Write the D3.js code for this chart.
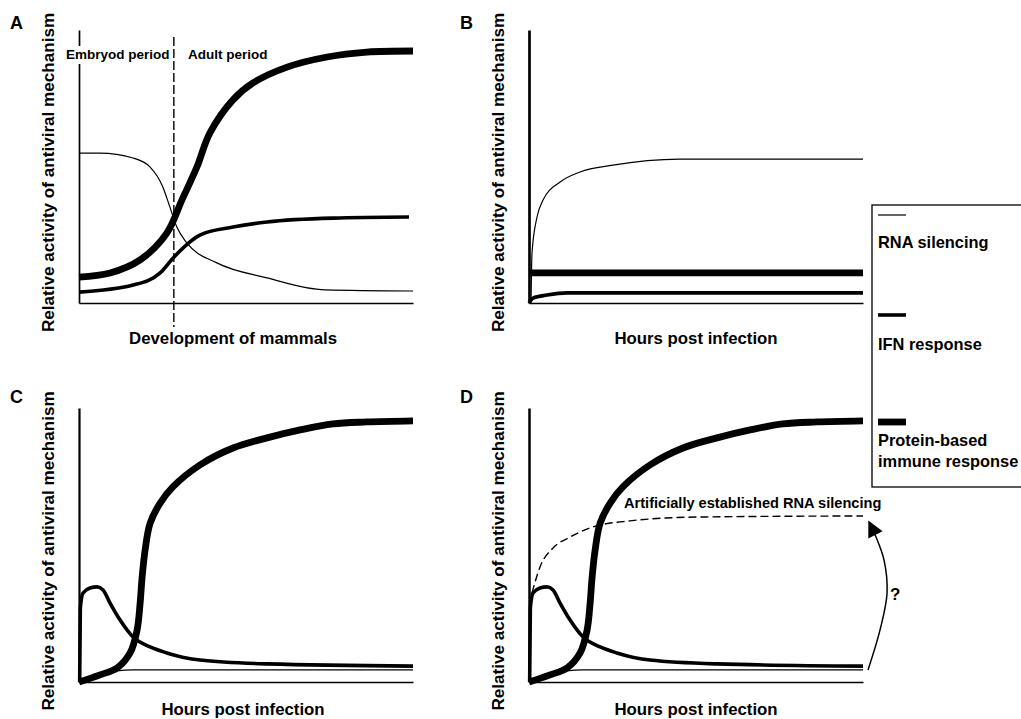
<!DOCTYPE html>
<html>
<head>
<meta charset="utf-8">
<script src="https://cdn.jsdelivr.net/npm/d3@7"></script>
<style>
  html, body { margin: 0; padding: 0; background: #fff; }
  svg { display: block; }
  text { font-family: "Liberation Sans", Arial, Helvetica, sans-serif; font-weight: bold; fill: #000; }
</style>
</head>
<body>
<svg id="chart" width="1021" height="719"></svg>
<script>
// ---------- DATA (x: relative time 0-100, y: relative activity 0-100) ----------
// Panel A: development of mammals
const aRna = [[0,54.9],[6.3,54.9],[16.2,53.1],[21.3,49.8],[25.1,42.5],[27.2,35.2],[29.3,27.8],[32.3,22.0],[41.3,14.7],[56.3,9.2],[73.7,4.8],[100,4.4]];
const aIfn = [[0,4.0],[16.2,6.6],[24.3,11.0],[28.4,16.8],[36.2,24.9],[46.1,27.8],[56.3,29.7],[76.0,31.1],[98.8,31.5]];
const aProtein = [[0,9.5],[9.3,11.0],[18.3,15.8],[26.3,25.6],[30.8,37.7],[35.3,49.8],[39.2,62.3],[46.1,74.4],[52.1,80.6],[62.3,86.4],[74.3,90.1],[86.2,91.9],[100,92.3]];
const aBoundary = 28.4; // embryo / adult boundary
const aPeriods = ["Embryod period", "Adult period"];

// Panel B
const bRna = [[0.6,0],[0.9,18.3],[2.4,31.5],[4.2,37.7],[9.3,44.3],[15.3,48.0],[25.1,50.5],[45.2,52.7],[100,52.7]];
const bIfn = [[0,0],[1.2,1.8],[5.4,2.9],[11.4,3.7],[100,3.7]];
const bProtein = [[0,11.0],[100,11.0]];

// Panels C and D (same infection kinetics)
const cRna = [[0,0],[6.3,2.9],[16.2,4.4],[100,4.4]];
const cIfn = [[0.2,0],[0.4,27.0],[1.2,32.5],[3.3,34.3],[5.4,34.7],[7.2,33.6],[9.3,28.8],[12.3,22.6],[16.2,16.4],[21.3,12.8],[26.3,10.6],[36.2,8.0],[56.3,6.6],[100,5.8]];
const cProtein = [[0,0],[6.3,2.6],[11.4,5.1],[15.3,10.6],[17.4,19.0],[18.3,28.8],[18.9,38.3],[19.8,48.2],[21.3,58.0],[24.3,65.3],[28.1,71.2],[36.2,79.2],[46.1,85.4],[56.3,89.1],[66.2,92.0],[76.0,94.2],[86.2,94.9],[100,95.3]];
// Panel D extra: artificially established RNA silencing + arrow
const dArtificial = [[0.9,32.5],[3.3,42.0],[7.2,48.9],[12.3,52.9],[19.2,56.6],[30.2,58.8],[50.3,60.2],[100,60.6]];
const dArrow = [[101.5,4.4],[105.1,19.0],[107.2,32.5],[106.3,44.5],[103.9,52.9],[101.8,58.4]];

const yTitle = "Relative activity of antiviral mechanism";
const xTitles = ["Development of mammals", "Hours post infection", "Hours post infection", "Hours post infection"];
const panelLetters = ["A", "B", "C", "D"];
const legendLabels = [["RNA silencing"], ["IFN response"], ["Protein-based", "immune response"]];

// ---------- STYLES ----------
const W = { rna: 1.2, ifn: 3.6, protein: 6.8 };

const svg = d3.select("#chart");
svg.append("rect").attr("width", 1021).attr("height", 719).attr("fill", "#fff");

svg.append("defs").append("marker")
  .attr("id", "arrowhead")
  .attr("viewBox", "0 0 10 10")
  .attr("refX", 9).attr("refY", 5)
  .attr("markerUnits", "userSpaceOnUse")
  .attr("markerWidth", 17).attr("markerHeight", 16)
  .attr("orient", "auto")
  .append("path").attr("d", "M0,0 L10,5 L0,10 Z").attr("fill", "#000");

const panels = [
  { id: "A", x0: 79, x1: 413, yb: 303, yt: 30, yAxisW: 1.7, series: [[aRna, "rna"], [aIfn, "ifn"], [aProtein, "protein"]] },
  { id: "B", x0: 529, x1: 863, yb: 303, yt: 30, yAxisW: 2.7, series: [[bRna, "rna"], [bProtein, "protein"], [bIfn, "ifn"]] },
  { id: "C", x0: 79, x1: 413, yb: 682, yt: 408, yAxisW: 2.2, series: [[cRna, "rna"], [cIfn, "ifn"], [cProtein, "protein"]] },
  { id: "D", x0: 529, x1: 863, yb: 682, yt: 408, yAxisW: 2.5, series: [[cRna, "rna"], [cIfn, "ifn"], [cProtein, "protein"]] }
];

panels.forEach((p, i) => {
  const x = d3.scaleLinear().domain([0, 100]).range([p.x0, p.x1]);
  const y = d3.scaleLinear().domain([0, 100]).range([p.yb, p.yt]);
  p.x = x; p.y = y;
  const g = svg.append("g");

  const lineMono = d3.line().x(d => x(d[0])).y(d => y(d[1])).curve(d3.curveMonotoneX);
  const lineSmooth = d3.line().x(d => x(d[0])).y(d => y(d[1])).curve(d3.curveCatmullRom.alpha(0.5));

  // x axis
  g.append("g").attr("transform", `translate(0,${p.yb})`)
    .call(d3.axisBottom(x).tickValues([]).tickSizeOuter(0))
    .call(s => s.select(".domain").attr("stroke", "#000").attr("stroke-width", 1.6));

  // series
  p.series.forEach(([data, kind]) => {
    g.append("path").datum(data)
      .attr("d", kind === "protein" ? lineSmooth : lineMono)
      .attr("fill", "none")
      .attr("stroke", "#000")
      .attr("stroke-width", W[kind])
      .attr("stroke-linecap", "butt")
      .attr("stroke-linejoin", "round");
  });

  // y axis
  g.append("g").attr("transform", `translate(${p.x0},0)`)
    .call(d3.axisLeft(y).tickValues([]).tickSizeOuter(0))
    .call(s => s.select(".domain").attr("stroke", "#000").attr("stroke-width", p.yAxisW));

  // panel letter
  svg.append("text").attr("x", p.x0 - 69).attr("y", p.yt - (i < 2 ? 1 : 5))
    .attr("font-size", 18).text(panelLetters[i]);

  // y title
  const cy = (p.yb + p.yt) / 2 + 6;
  svg.append("text")
    .attr("transform", `translate(${p.x0 - 25},${cy}) rotate(-90)`)
    .attr("text-anchor", "middle").attr("font-size", 17.1)
    .text(yTitle);

  // x title
  svg.append("text").attr("x", (p.x0 + p.x1) / 2 - (i === 0 ? 13 : 0) + (i === 2 ? -3 : 0))
    .attr("y", i < 2 ? p.yb + 41 : p.yb + 33)
    .attr("text-anchor", "middle").attr("font-size", 16.8)
    .text(xTitles[i]);
});

// ---------- Panel A annotations ----------
{
  const p = panels[0];
  // white box behind "Embryod period" interrupting the axis
  svg.append("rect").attr("x", p.x0 - 3).attr("y", 46).attr("width", 6).attr("height", 18).attr("fill", "#fff");
  svg.append("line")
    .attr("x1", p.x(aBoundary)).attr("x2", p.x(aBoundary))
    .attr("y1", p.y(97.4)).attr("y2", p.y(-8.8))
    .attr("stroke", "#000").attr("stroke-width", 1.4)
    .attr("stroke-dasharray", "9,3");
  svg.append("text").attr("x", 66).attr("y", 59).attr("font-size", 13.5).text(aPeriods[0]);
  svg.append("text").attr("x", 188).attr("y", 59).attr("font-size", 13.5).text(aPeriods[1]);
}

// ---------- Panel D annotations ----------
{
  const p = panels[3];
  const line = d3.line().x(d => p.x(d[0])).y(d => p.y(d[1])).curve(d3.curveMonotoneX);
  svg.append("path").datum(dArtificial).attr("d", line)
    .attr("fill", "none").attr("stroke", "#000").attr("stroke-width", 1.4)
    .attr("stroke-dasharray", "8,4");
  svg.append("text").attr("x", 624).attr("y", 508).attr("font-size", 14.6)
    .text("Artificially established RNA silencing");
  const arrowLine = d3.line().x(d => p.x(d[0])).y(d => p.y(d[1])).curve(d3.curveCatmullRom);
  svg.append("path").datum(dArrow).attr("d", arrowLine)
    .attr("fill", "none").attr("stroke", "#000").attr("stroke-width", 1.5)
    .attr("marker-end", "url(#arrowhead)");
  svg.append("text").attr("x", 890).attr("y", 600).attr("font-size", 17).text("?");
}

// ---------- Legend ----------
{
  const lg = svg.append("g");
  lg.append("rect").attr("x", 872).attr("y", 205).attr("width", 170).attr("height", 282)
    .attr("fill", "#fff").attr("stroke", "#000").attr("stroke-width", 1.3);
  const items = [
    { kind: "rna", ly: 215, ty: 248 },
    { kind: "ifn", ly: 315, ty: 350 },
    { kind: "protein", ly: 422, ty: 446 }
  ];
  items.forEach((it, k) => {
    lg.append("line").attr("x1", 878).attr("x2", 906).attr("y1", it.ly).attr("y2", it.ly)
      .attr("stroke", "#000").attr("stroke-width", W[it.kind]);
    legendLabels[k].forEach((t, j) => {
      lg.append("text").attr("x", 878).attr("y", it.ty + j * 21).attr("font-size", 16.4).text(t);
    });
  });
}
</script>
</body>
</html>
